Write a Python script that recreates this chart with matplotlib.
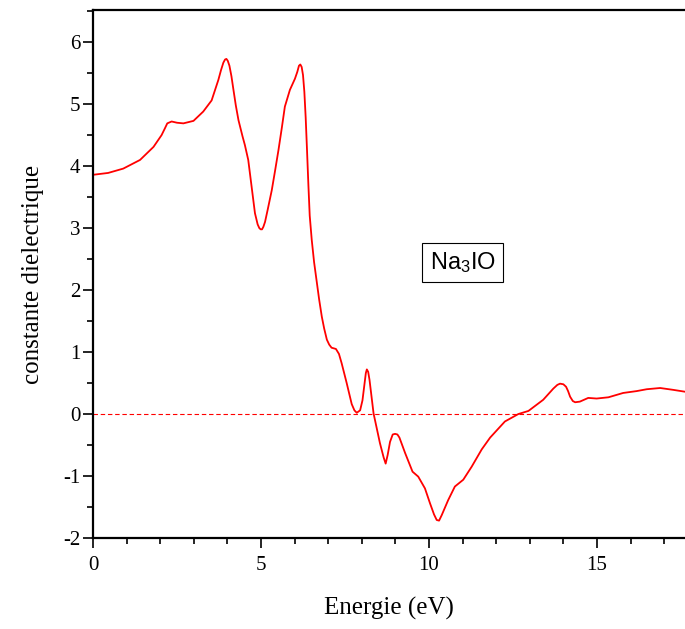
import matplotlib.pyplot as plt
from matplotlib.ticker import MultipleLocator

plt.rcParams['font.family'] = 'Liberation Serif'
plt.rcParams['mathtext.default'] = 'regular'
plt.rcParams['axes.unicode_minus'] = False

energy = [0.0, 0.45, 0.9, 1.4, 1.8, 2.04, 2.14, 2.21, 2.34, 2.5, 2.69, 2.99, 3.28, 3.53,
          3.73, 3.81, 3.88, 3.93, 3.97, 4.01, 4.06, 4.12, 4.18, 4.25, 4.33, 4.45, 4.52,
          4.62, 4.72, 4.82, 4.9, 4.95, 4.99, 5.03, 5.07, 5.12, 5.2, 5.32, 5.42, 5.52,
          5.62, 5.71, 5.86, 6.01, 6.08, 6.13, 6.17, 6.21, 6.25, 6.29, 6.33, 6.37,
          6.41, 6.45, 6.51, 6.58, 6.66, 6.73, 6.81, 6.88, 6.96, 7.03, 7.10, 7.23,
          7.32, 7.40, 7.55, 7.70, 7.78, 7.85, 7.95, 8.02, 8.07, 8.12, 8.15, 8.19,
          8.23, 8.35, 8.54, 8.65, 8.71, 8.77, 8.84, 8.92, 8.99, 9.06, 9.12, 9.29,
          9.51, 9.68, 9.88, 10.03, 10.15, 10.23, 10.3, 10.38, 10.57, 10.77, 11.02,
          11.27, 11.57, 11.82, 12.26, 12.66, 12.96, 13.40, 13.70, 13.82, 13.90,
          14.0, 14.08, 14.14, 14.20, 14.28, 14.35, 14.49, 14.74, 14.99, 15.34,
          15.78, 16.18, 16.48, 16.88, 17.27, 17.62]
eps_real = [3.86, 3.89, 3.96, 4.10, 4.31, 4.50, 4.61, 4.69, 4.72, 4.70, 4.69, 4.73, 4.88, 5.06,
            5.39, 5.55, 5.67, 5.72, 5.73, 5.70, 5.62, 5.45, 5.23, 4.98, 4.74, 4.48, 4.34,
            4.10, 3.67, 3.24, 3.06, 3.00, 2.98, 2.98, 3.02, 3.10, 3.30, 3.61, 3.93, 4.26,
            4.62, 4.96, 5.23, 5.41, 5.52, 5.62, 5.64, 5.60, 5.47, 5.2, 4.78, 4.25,
            3.7, 3.2, 2.81, 2.45, 2.13, 1.85, 1.57, 1.38, 1.20, 1.12, 1.07, 1.05,
            0.97, 0.82, 0.50, 0.16, 0.06, 0.02, 0.06, 0.22, 0.44, 0.66, 0.72, 0.68,
            0.55, 0.01, -0.47, -0.70, -0.80, -0.66, -0.45, -0.33, -0.32, -0.33, -0.38, -0.63,
            -0.93, -1.01, -1.20, -1.44, -1.62, -1.71, -1.72, -1.63, -1.39, -1.17, -1.06,
            -0.85, -0.57, -0.38, -0.12, 0.0, 0.05, 0.23, 0.41, 0.47, 0.49,
            0.48, 0.44, 0.37, 0.28, 0.21, 0.19, 0.20, 0.26, 0.25, 0.27,
            0.34, 0.37, 0.40, 0.42, 0.39, 0.36]

fig = plt.figure(figsize=(6.85, 6.29), dpi=100)
ax = fig.add_axes([0.1358, 0.1447, 0.8642, 0.8395])

ax.plot(energy, eps_real, color='red', lw=1.3)
ax.axhline(0, color='red', lw=0.8, ls=(0, (4, 2.5)))

ax.set_xlim(0, 17.62)
ax.set_ylim(-2, 6.52)
ax.xaxis.set_major_locator(MultipleLocator(5))
ax.xaxis.set_minor_locator(MultipleLocator(1))
ax.yaxis.set_major_locator(MultipleLocator(1))
ax.yaxis.set_minor_locator(MultipleLocator(0.5))

ax.spines['right'].set_visible(False)
for s in ['left', 'bottom', 'top']:
    ax.spines[s].set_linewidth(1.6)
ax.tick_params(which='major', direction='out', length=7, width=1.2, labelsize=15)
ax.tick_params(which='minor', direction='out', length=4, width=1.2)
ax.tick_params(axis='x', pad=6)
ax.tick_params(axis='y', pad=2)

ax.set_xlabel('Energie (eV)', fontsize=18, labelpad=16)
ax.set_ylabel('constante dielectrique', fontsize=18, labelpad=14)

ax.text(11.0, 2.44, 'Na$_3$IO', family='Liberation Sans', fontsize=17,
        ha='center', va='center',
        bbox=dict(boxstyle='square,pad=0.3', fc='white', ec='black', lw=0.8))

fig.savefig('out.png', dpi=100)
